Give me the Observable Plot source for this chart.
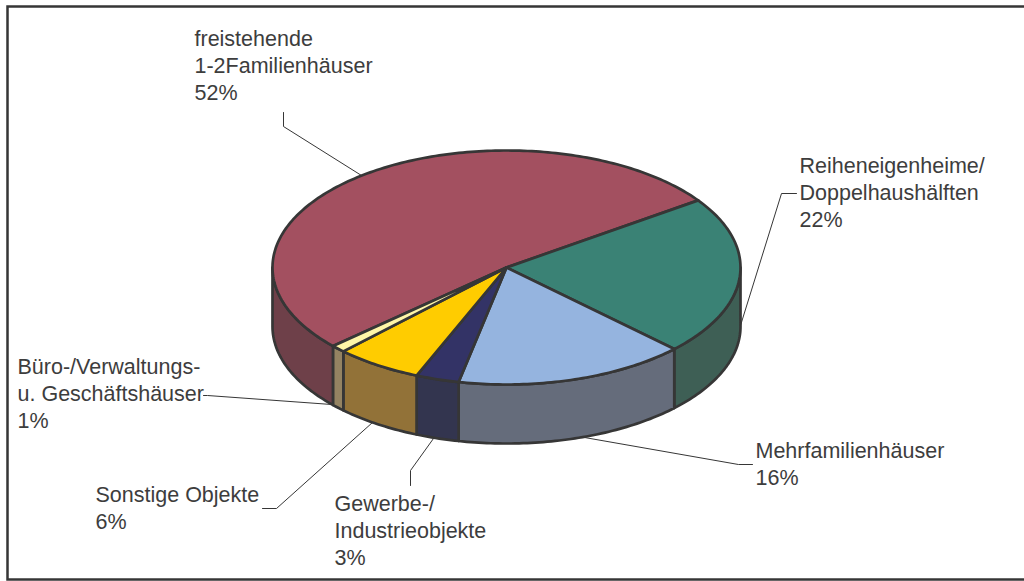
<!DOCTYPE html>
<html>
<head>
<meta charset="utf-8">
<script src="https://cdn.jsdelivr.net/npm/d3@7"></script>
<script src="https://cdn.jsdelivr.net/npm/@observablehq/plot@0.6"></script>
<style>
  html, body { margin: 0; padding: 0; background: #fff; }
  svg { display: block; }
</style>
</head>
<body>
<div id="chart"></div>
<script>
// Gebäudearten und ihre Anteile in Prozent
const categories = [
  "freistehende 1-2Familienhäuser",
  "Reiheneigenheime/Doppelhaushälften",
  "Mehrfamilienhäuser",
  "Gewerbe-/Industrieobjekte",
  "Sonstige Objekte",
  "Büro-/Verwaltungs- u. Geschäftshäuser"
];
const shares = [52, 22, 16, 3, 6, 1];
const labelLines = [
  ["freistehende", "1-2Familienhäuser"],
  ["Reiheneigenheime/", "Doppelhaushälften"],
  ["Mehrfamilienhäuser"],
  ["Gewerbe-/", "Industrieobjekte"],
  ["Sonstige Objekte"],
  ["Büro-/Verwaltungs-", "u. Geschäftshäuser"]
];
const topColors = ["#a35060", "#3a8275", "#95b4df", "#333366", "#ffcc00", "#fff6a8"];
const sideColors = ["#6e4049", "#3e5f55", "#656c7b", "#33354f", "#927238", "#948362"];

// Lage der Beschriftungen und Führungslinien
const labelPos = [[194, 26], [799, 153], [755, 438], [334, 491], [95, 482], [17, 354]];
const leaderElbows = [
  [[283, 112], [283, 126]],
  [[796, 193], [781, 193]],
  [[752, 464], [738, 464]],
  [[410, 485], [410, 470]],
  [[262, 508], [276, 508]],
  [[203, 395], [207, 395]]
];
const leaderEnds = [[361, 175], [740, 325], [584, 437], [433, 438], [372, 422], [331, 404]];

// Ellipse der Deckfläche, Höhe des Zylinders, Winkel der ersten Sektorgrenze
const cx = 506, cy = 267, rx = 234, ry = 117, depth = 59;
const startDeg = 35;

const rim = (deg, dy = 0) => {
  const a = deg * Math.PI / 180;
  return {x: cx + rx * Math.cos(a), y: cy - ry * Math.sin(a) + dy};
};

// Sektorgrenzen: der erste Sektor läuft gegen den Uhrzeigersinn, die übrigen im Uhrzeigersinn
const total = d3.sum(shares);
const spans = [];
{
  let a = startDeg;
  spans.push([a, a + shares[0] / total * 360]);
  for (let i = 1; i < shares.length; i++) {
    const b = a - shares[i] / total * 360;
    spans.push([b, a]);
    a = b;
  }
}

const arc = (from, to, dy = 0) => {
  const n = Math.max(2, Math.ceil(Math.abs(to - from)));
  return d3.range(n + 1).map(i => rim(from + (to - from) * i / n, dy));
};

// Mantelflächen: nur die vordere Hälfte (180° bis 360°) ist sichtbar
const wallPoints = [];
spans.forEach(([a, b], i) => {
  const lo = Math.max(a < 0 ? a + 360 : a, 180);
  const hi = Math.min(a < 0 ? b + 360 : b, 360);
  if (hi <= lo) return;
  const pts = [...arc(lo, hi), ...arc(hi, lo, depth)];
  pts.push(pts[0]);
  pts.forEach(p => wallPoints.push({...p, key: categories[i] + " Mantel"}));
});

// Deckflächen
const facePoints = [];
spans.forEach(([a, b], i) => {
  const pts = [{x: cx, y: cy}, ...arc(a, b), {x: cx, y: cy}];
  pts.forEach(p => facePoints.push({...p, key: categories[i]}));
});

const labels = categories.map((c, i) => ({
  text: [...labelLines[i], shares[i] + "%"].join("\n"),
  x: labelPos[i][0],
  y: labelPos[i][1]
}));
const leaders = categories.flatMap((c, i) =>
  [...leaderElbows[i], leaderEnds[i]].map(([x, y]) => ({x, y, key: c}))
);

const ink = "#363636";
const chart = Plot.plot({
  width: 1024,
  height: 581,
  margin: 0,
  x: {domain: [0, 1024], range: [0, 1024], axis: null},
  y: {domain: [0, 581], range: [0, 581], axis: null},
  color: {
    type: "ordinal",
    domain: [...categories, ...categories.map(c => c + " Mantel")],
    range: [...topColors, ...sideColors]
  },
  style: {background: "#fff"},
  marks: [
    Plot.frame({stroke: ink, strokeWidth: 2.5, insetLeft: 7, insetTop: 6, insetBottom: 2, insetRight: -4}),
    Plot.line(leaders, {x: "x", y: "y", z: "key", stroke: ink, strokeWidth: 1}),
    Plot.line(wallPoints, {x: "x", y: "y", z: "key", fill: "key", stroke: ink, strokeWidth: 2.7}),
    Plot.line(facePoints, {x: "x", y: "y", z: "key", fill: "key", stroke: ink, strokeWidth: 2.7}),
    Plot.text(labels, {
      x: "x", y: "y", text: "text",
      textAnchor: "start", lineAnchor: "top", lineHeight: 1.256,
      fontFamily: "Liberation Sans", fontSize: 21.5, fill: "#3d3d3d"
    })
  ]
});
document.getElementById("chart").append(chart);
</script>
</body>
</html>
